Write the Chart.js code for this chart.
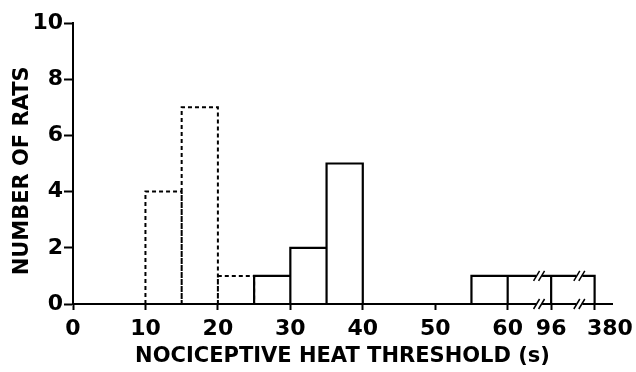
<!DOCTYPE html>
<html>
<head>
<meta charset="utf-8">
<script src="https://cdn.jsdelivr.net/npm/chart.js@4/dist/chart.umd.min.js"></script>
<style>
  body { margin: 0; background: #fff; }
  canvas { display: block; }
</style>
</head>
<body>
<canvas id="myChart" width="636" height="372"></canvas>
<script>
// axis tick labels (seconds); axis is broken after 60
const tickValues = [0, 10, 20, 30, 40, 50, 60, 96, 380];
// dashed histogram
const dashedEdges = [10, 15, 20, 25];
const dashedCounts = [4, 7, 1];
// solid histogram
const solidEdges = [25, 30, 35, 40, 45, 50, 55, 60, 96, 380];
const solidCounts = [1, 2, 5, 0, 0, 0, 1, 1, 1];
// where the axis break marks sit (seconds)
const breakValues = [86, 280];

// squeeze the broken part of the axis: 60-96 and 96-380 each take 6 units
function toAxis(v) {
  if (v <= 60) return v;
  if (v <= 96) return 60 + (v - 60) / 36 * 6;
  return 66 + (v - 96) / 284 * 6;
}

function outline(edges, counts) {
  const pts = [];
  counts.forEach((c, i) => {
    if (!c) return;
    const a = toAxis(edges[i]);
    const b = toAxis(edges[i + 1]);
    pts.push({x: a, y: 0}, {x: a, y: c}, {x: b, y: c}, {x: b, y: 0}, {x: b, y: null});
  });
  return pts;
}

const font = 'DejaVu Sans';

const breakMarks = {
  id: 'breakMarks',
  afterDatasetsDraw(chart) {
    const ctx = chart.ctx;
    const xs = chart.scales.x, ys = chart.scales.y;
    ctx.save();
    breakValues.forEach(v => {
      const px = xs.getPixelForValue(toAxis(v));
      [0, 1].forEach(level => {
        const py = ys.getPixelForValue(level);
        ctx.fillStyle = '#fff';
        ctx.fillRect(px - 3, py - 2, 6, 4);
        ctx.strokeStyle = '#000';
        ctx.lineWidth = 1.5;
        [-2.5, 2.5].forEach(d => {
          ctx.beginPath();
          ctx.moveTo(px + d - 3, py + 5);
          ctx.lineTo(px + d + 3, py - 5);
          ctx.stroke();
        });
      });
    });
    ctx.restore();
  }
};

new Chart(document.getElementById('myChart'), {
  type: 'line',
  data: {
    datasets: [
      {
        data: outline(dashedEdges, dashedCounts),
        borderColor: '#000',
        borderWidth: 2,
        borderDash: [4, 3],
        pointRadius: 0,
        tension: 0,
        spanGaps: false
      },
      {
        data: outline(solidEdges, solidCounts),
        borderColor: '#000',
        borderWidth: 2.2,
        pointRadius: 0,
        tension: 0,
        spanGaps: false
      }
    ]
  },
  options: {
    responsive: false,
    animation: false,
    devicePixelRatio: 1,
    layout: { padding: { top: 23, right: 24, left: 0, bottom: 0 } },
    plugins: { legend: { display: false }, tooltip: { enabled: false } },
    scales: {
      x: {
        type: 'linear',
        min: 0,
        max: 74.4,
        afterBuildTicks: (scale) => {
          scale.ticks = tickValues.map(t => ({ value: toAxis(t) }));
        },
        afterFit: (scale) => {
          scale.height = 68;
          scale.paddingLeft = 0;
          scale.paddingRight = 0;
        },
        grid: { drawOnChartArea: false, tickLength: 6, tickColor: '#000', tickWidth: 2 },
        border: { color: '#000', width: 2 },
        ticks: {
          autoSkip: false,
          maxRotation: 0,
          padding: 6,
          color: '#000',
          font: { family: font, size: 22, weight: 'bold' },
          // last label sits a little right of its tick in the original
          callback: (value, index) => (index === tickValues.length - 1 ? '    ' : '') + tickValues[index]
        },
        title: {
          display: true,
          text: 'NOCICEPTIVE HEAT THRESHOLD (s)',
          color: '#000',
          font: { family: font, size: 21, weight: 'bold' },
          padding: { top: 0, bottom: 3 }
        }
      },
      y: {
        min: 0,
        max: 10,
        afterFit: (scale) => {
          scale.width = 73;
        },
        grid: { drawOnChartArea: false, tickLength: 9, tickColor: '#000', tickWidth: 2 },
        border: { color: '#000', width: 2 },
        ticks: {
          stepSize: 2,
          padding: 1,
          color: '#000',
          font: { family: font, size: 22, weight: 'bold' }
        },
        title: {
          display: true,
          text: 'NUMBER OF RATS  ',
          color: '#000',
          font: { family: font, size: 21, weight: 'bold' },
          padding: { top: 10, bottom: 0 }
        }
      }
    }
  },
  plugins: [breakMarks]
});
</script>
</body>
</html>
